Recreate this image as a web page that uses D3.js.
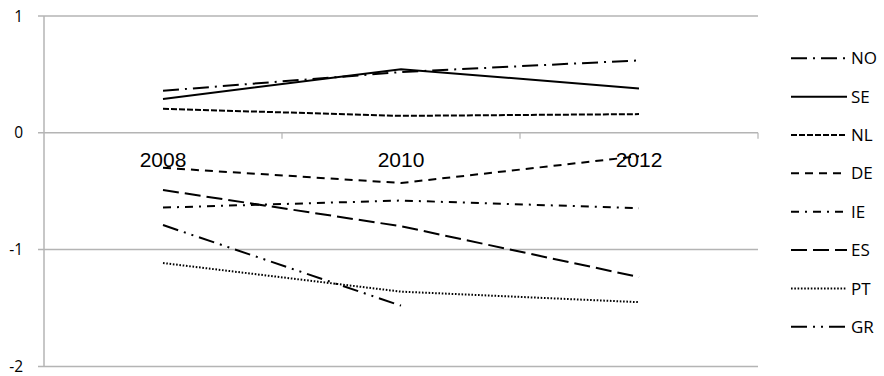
<!DOCTYPE html>
<html><head><meta charset="utf-8">
<script src="https://cdn.jsdelivr.net/npm/d3@7"></script>
<style>html,body{margin:0;padding:0;background:#fff;}svg{display:block;}</style>
</head><body>
<svg id="c" width="884" height="376"></svg>
<script>
const years = ["2008", "2010", "2012"];
const yTicks = [1, 0, -1, -2];
const seriesNames = ["NO", "SE", "NL", "DE", "IE", "ES", "PT", "GR"];
const NO = [0.36, 0.52, 0.62];
const SE = [0.29, 0.545, 0.38];
const NL = [0.205, 0.145, 0.16];
const DE = [-0.30, -0.43, -0.20];
const IE = [-0.64, -0.58, -0.645];
const ES = [-0.49, -0.80, -1.235];
const PT = [-1.115, -1.36, -1.45];
const GR = [-0.79, -1.48, null];
const values = {NO, SE, NL, DE, IE, ES, PT, GR};
const dashes = {
  NO: "16,6,2,6", SE: null, NL: "6,2", DE: "8,6", IE: "8,6,2,6",
  ES: "16,6", PT: "1.6,1.7", GR: "16,6,2,6,2,6"
};

const svg = d3.select("#c");
const x = d3.scaleBand().domain(years).range([44, 758]);
const y = d3.scaleLinear().domain([-2, 1]).range([366.4, 16]);
const cx = d => x(d) + x.bandwidth() / 2;
const grid = "#b4b4b4";
const labelFont = "'Open Sans', Lato, sans-serif";

// gridlines
svg.append("g").selectAll("line").data(yTicks).join("line")
  .attr("x1", 38).attr("x2", 758)
  .attr("y1", d => y(d)).attr("y2", d => y(d))
  .attr("stroke", grid).attr("stroke-width", 1.5);
// y axis line
svg.append("line").attr("x1", 44).attr("x2", 44).attr("y1", y(1)).attr("y2", y(-2))
  .attr("stroke", grid).attr("stroke-width", 1.5);
// x-axis ticks at band boundaries
const bounds = years.map(d => x(d)).concat([x(years[years.length - 1]) + x.bandwidth()]).slice(1);
svg.append("g").selectAll("line").data(bounds).join("line")
  .attr("x1", d => d).attr("x2", d => d).attr("y1", y(0)).attr("y2", y(0) + 6)
  .attr("stroke", grid).attr("stroke-width", 1.2);

// y labels
svg.append("g").selectAll("text").data(yTicks).join("text")
  .attr("x", 23).attr("y", d => y(d)).attr("dy", "0.36em")
  .attr("text-anchor", "end")
  .style("font-family", labelFont).style("font-size", "15.5px").style("fill", "#000")
  .text(d => d);

// x labels
svg.append("g").selectAll("text").data(years).join("text")
  .attr("x", d => cx(d)).attr("y", 166.5)
  .attr("text-anchor", "middle")
  .style("font-family", "'Liberation Sans', Arial, sans-serif").style("font-size", "21px").style("fill", "#000")
  .text(d => d);

// lines
const line = d3.line().defined(d => d.v != null).x(d => cx(d.year)).y(d => y(d.v));
seriesNames.forEach(name => {
  const pts = years.map((yr, i) => ({year: yr, v: values[name][i]}));
  svg.append("path").datum(pts).attr("d", line)
    .attr("fill", "none").attr("stroke", "#000").attr("stroke-width", 2)
    .attr("stroke-dasharray", dashes[name]);
});

// legend
const lg = svg.append("g").selectAll("g").data(seriesNames).join("g")
  .attr("transform", (d, i) => `translate(0,${58.3 + i * 38.35})`);
lg.append("line").attr("x1", 791).attr("x2", 847).attr("y1", 0).attr("y2", 0)
  .attr("stroke", "#000").attr("stroke-width", 2)
  .attr("stroke-dasharray", d => dashes[d]);
lg.append("text").attr("x", 851).attr("y", 0).attr("dy", "0.36em")
  .style("font-family", labelFont).style("font-size", "17px").style("fill", "#000")
  .text(d => d);
</script>
</body></html>
